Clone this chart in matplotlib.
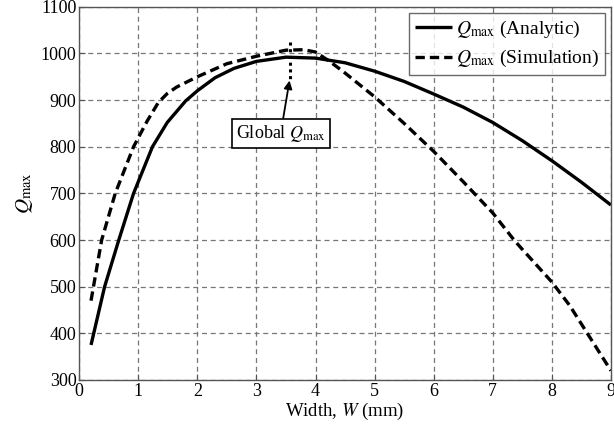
import matplotlib
matplotlib.use("Agg")
import matplotlib.pyplot as plt

plt.rcParams['font.family'] = ['Liberation Serif', 'DejaVu Serif']
plt.rcParams['mathtext.fontset'] = 'stix'

w_analytic = [0.2, 0.43, 0.67, 0.92, 1.0, 1.24, 1.49, 1.8, 2.0, 2.3, 2.62,
              3.0, 3.5, 4.0, 4.5, 5.0, 5.5, 6.0, 6.5, 7.0, 7.5, 8.0, 8.5, 9.0]
q_analytic = [375, 500, 600, 700, 725, 800, 852, 898, 920, 948, 968,
              983, 992, 990, 980, 962, 940, 913, 885, 852, 813, 770, 724, 675]

w_sim = [0.2, 0.38, 0.61, 0.92, 1.15, 1.34, 1.49, 1.65, 2.0, 2.5, 3.0, 3.5,
         3.8, 4.0, 4.25, 4.5, 5.0, 5.5, 6.0, 6.5, 7.0, 7.36, 7.5, 8.0, 8.3,
         8.6, 9.0]
q_sim = [470, 600, 700, 800, 855, 895, 914, 928, 950, 978, 994, 1007,
         1008, 1003, 982, 958, 907, 850, 790, 725, 658, 600, 580, 510, 460,
         400, 320]

x_ticks = [0, 1, 2, 3, 4, 5, 6, 7, 8, 9]
y_ticks = [300, 400, 500, 600, 700, 800, 900, 1000, 1100]

peak_w = 3.56
peak_line_q = [1025, 940]

fig = plt.figure(figsize=(6.14, 4.25), dpi=100)
ax = fig.add_axes([0.129, 0.106, 0.866, 0.878])

ax.plot(w_analytic, q_analytic, color='black', lw=2.4, solid_capstyle='butt',
        solid_joinstyle='round', label=r'$Q_{\max}$ (Analytic)')
ax.plot(w_sim, q_sim, color='black', lw=2.4, dashes=(2.8, 1.5),
        label=r'$Q_{\max}$ (Simulation)')

ax.plot([peak_w, peak_w], peak_line_q, color='black', lw=2.2, dashes=(1.0, 1.2))

ax.annotate(r'Global $Q_{\max}$', xy=(peak_w, 942), xytext=(3.41, 829),
            ha='center', va='center', fontsize=13,
            bbox=dict(boxstyle='square,pad=0.22', fc='white', ec='black', lw=1.2),
            arrowprops=dict(arrowstyle='-|>', color='black', lw=1.3,
                            mutation_scale=12, shrinkA=0, shrinkB=0))

ax.set_xlim(0, 9)
ax.set_ylim(300, 1100)
ax.set_xticks(x_ticks)
ax.set_yticks(y_ticks)
ax.tick_params(direction='in', labelsize=13, length=4, color='#555555', pad=2)
ax.grid(True, color='#777777', lw=0.9, dashes=(4, 3))
for s in ax.spines.values():
    s.set_color('#555555')
    s.set_linewidth(1.0)

ax.set_xlabel(r'Width, $W$ (mm)', fontsize=13.5, labelpad=1)
ax.set_ylabel(r'$Q_{\max}$', fontsize=15, labelpad=4)

leg = ax.legend(loc='upper right', fontsize=14, frameon=True, fancybox=False,
                edgecolor='#444444', handlelength=1.9, handletextpad=0.2,
                borderpad=0.3, labelspacing=0.45, borderaxespad=0.3)
leg.get_frame().set_linewidth(1.0)

fig.savefig('out.png', dpi=100)
